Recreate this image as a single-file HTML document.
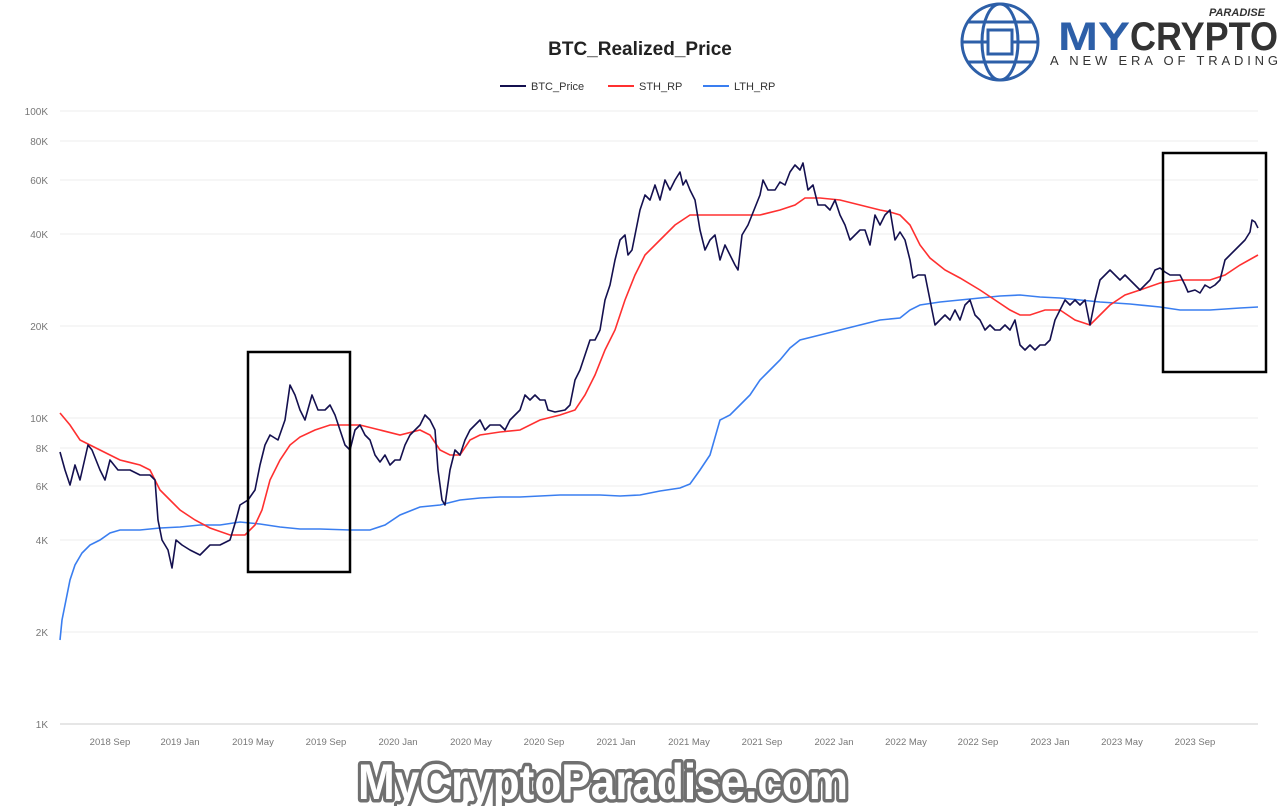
<!DOCTYPE html>
<html><head><meta charset="utf-8"><style>
body{margin:0;background:#fff;}
svg{display:block;font-family:"Liberation Sans",sans-serif;}
</style></head><body>
<svg width="1280" height="806" viewBox="0 0 1280 806">
<rect width="1280" height="806" fill="#fff"/>
<text x="640" y="55" text-anchor="middle" font-size="19" font-weight="bold" fill="#222">BTC_Realized_Price</text>
<g font-size="11" fill="#333">
<line x1="500" y1="86" x2="526" y2="86" stroke="#14104f" stroke-width="2"/><text x="531" y="90">BTC_Price</text>
<line x1="608" y1="86" x2="634" y2="86" stroke="#ff3030" stroke-width="2"/><text x="639" y="90">STH_RP</text>
<line x1="703" y1="86" x2="729" y2="86" stroke="#3a7ef0" stroke-width="2"/><text x="734" y="90">LTH_RP</text>
</g>
<g stroke="#eee" stroke-width="1">
<line x1="60" y1="111" x2="1258" y2="111"/><line x1="60" y1="141" x2="1258" y2="141"/><line x1="60" y1="180" x2="1258" y2="180"/><line x1="60" y1="234" x2="1258" y2="234"/><line x1="60" y1="326" x2="1258" y2="326"/><line x1="60" y1="418" x2="1258" y2="418"/><line x1="60" y1="448" x2="1258" y2="448"/><line x1="60" y1="486" x2="1258" y2="486"/><line x1="60" y1="540" x2="1258" y2="540"/><line x1="60" y1="632" x2="1258" y2="632"/>
</g>
<line x1="60" y1="724" x2="1258" y2="724" stroke="#ccc"/>
<g font-size="10" fill="#777" text-anchor="end">
<text x="48" y="115">100K</text><text x="48" y="145">80K</text><text x="48" y="184">60K</text><text x="48" y="238">40K</text><text x="48" y="330">20K</text><text x="48" y="422">10K</text><text x="48" y="452">8K</text><text x="48" y="490">6K</text><text x="48" y="544">4K</text><text x="48" y="636">2K</text><text x="48" y="728">1K</text>
</g>
<g font-size="9.5" fill="#777" text-anchor="middle">
<text x="110" y="745">2018 Sep</text><text x="180" y="745">2019 Jan</text><text x="253" y="745">2019 May</text><text x="326" y="745">2019 Sep</text><text x="398" y="745">2020 Jan</text><text x="471" y="745">2020 May</text><text x="544" y="745">2020 Sep</text><text x="616" y="745">2021 Jan</text><text x="689" y="745">2021 May</text><text x="762" y="745">2021 Sep</text><text x="834" y="745">2022 Jan</text><text x="906" y="745">2022 May</text><text x="978" y="745">2022 Sep</text><text x="1050" y="745">2023 Jan</text><text x="1122" y="745">2023 May</text><text x="1195" y="745">2023 Sep</text>
</g>
<polyline fill="none" stroke="#3a7ef0" stroke-width="1.6" points="60,640 62,620 66,600 70,580 75,565 82,553 90,545 100,540 110,533 120,530 140,530 160,528 180,527 200,525 220,525 240,522 260,524 280,527 300,529 320,529 350,530 370,530 385,525 400,515 420,507 440,505 460,500 480,498 500,497 520,497 540,496 560,495 580,495 600,495 620,496 640,495 660,491 680,488 690,484 700,470 710,455 720,420 730,415 740,405 750,395 760,380 770,370 780,360 790,348 800,340 820,335 840,330 860,325 880,320 900,318 910,310 920,305 940,302 960,300 980,298 1000,296 1020,295 1040,297 1060,298 1080,300 1100,302 1130,304 1160,307 1180,310 1210,310 1240,308 1258,307"/>
<polyline fill="none" stroke="#ff3030" stroke-width="1.6" points="60,413 70,425 80,440 90,445 100,450 110,455 120,460 140,465 150,470 160,490 170,500 180,510 195,520 210,528 230,535 245,535 255,525 262,510 270,480 280,460 290,445 300,437 315,430 330,425 345,425 360,425 380,430 400,435 420,430 430,435 440,450 450,455 460,455 470,440 480,435 500,432 520,430 540,420 560,415 575,410 585,395 595,375 605,350 615,330 625,300 635,275 645,255 660,240 675,225 690,215 700,215 720,215 740,215 760,215 780,210 795,205 805,198 820,198 840,200 860,205 880,210 890,212 900,215 910,225 920,245 930,258 945,270 960,278 980,290 995,300 1010,310 1020,315 1030,315 1045,310 1060,310 1075,320 1090,325 1100,315 1110,305 1125,295 1140,290 1160,283 1180,280 1210,280 1225,275 1240,265 1258,255"/>
<polyline fill="none" stroke="#14104f" stroke-width="1.6" stroke-linejoin="round" points="60,452 65,470 70,485 75,465 80,480 88,445 92,450 100,470 105,480 110,460 118,470 130,470 140,475 150,475 155,480 158,520 162,540 168,550 172,568 176,540 182,545 190,550 200,555 210,545 220,545 230,540 236,520 240,505 248,500 255,490 260,465 265,445 270,435 278,440 285,420 290,385 295,395 300,410 305,420 312,395 318,410 325,410 330,405 335,415 340,430 345,445 350,450 355,430 360,425 365,435 370,440 375,455 380,462 385,455 390,465 395,460 400,460 405,445 410,435 415,430 420,425 425,415 430,420 435,430 438,470 442,500 445,505 450,470 455,450 460,455 465,440 470,430 475,425 480,420 485,430 490,425 495,425 500,425 505,430 510,420 515,415 520,410 525,395 530,400 535,395 540,400 545,400 548,410 555,412 565,410 570,405 575,380 580,370 585,355 590,340 595,340 600,330 605,300 610,285 615,260 620,240 625,235 628,255 632,250 636,230 640,210 645,195 650,200 655,185 660,200 665,180 670,190 675,180 680,172 683,185 686,180 690,190 695,200 700,230 705,250 710,240 715,235 720,260 725,245 730,255 735,265 738,270 742,235 748,225 752,215 756,205 760,195 763,180 768,190 775,190 780,182 785,185 790,172 795,165 800,170 803,163 808,190 813,185 818,205 825,205 830,210 835,200 840,215 845,225 850,240 855,235 860,230 865,230 870,245 875,215 880,225 885,215 890,210 895,240 900,232 905,240 910,260 913,278 918,275 925,275 930,300 935,325 940,320 945,315 950,320 955,310 960,320 965,305 970,300 975,315 980,320 985,330 990,325 995,330 1000,330 1005,325 1010,330 1015,320 1020,345 1025,350 1030,345 1035,350 1040,345 1045,345 1050,340 1055,320 1060,310 1065,300 1070,305 1075,300 1080,305 1085,300 1090,325 1095,300 1100,280 1105,275 1110,270 1115,275 1120,280 1125,275 1130,280 1135,285 1140,290 1145,285 1150,280 1155,270 1160,268 1165,272 1170,275 1180,275 1185,285 1188,292 1195,290 1200,293 1205,285 1210,288 1215,285 1220,280 1225,260 1230,255 1235,250 1240,245 1245,240 1250,232 1252,220 1255,222 1258,228"/>
<rect x="248" y="352" width="102" height="220" fill="none" stroke="#000" stroke-width="2.5"/>
<rect x="1163" y="153" width="103" height="219" fill="none" stroke="#000" stroke-width="2.5"/>
<g fill="none" stroke="#2d5fa8" stroke-width="3">
<circle cx="1000" cy="42" r="38"/>
<ellipse cx="1000" cy="42" rx="18" ry="38"/>
<line x1="962" y1="42" x2="1038" y2="42"/>
<line x1="968" y1="22" x2="1032" y2="22"/><line x1="968" y1="62" x2="1032" y2="62"/>
<rect x="988" y="30" width="24" height="24" fill="#fff"/>
</g>
<text x="1265" y="16" text-anchor="end" font-size="11" font-weight="bold" font-style="italic" fill="#333">PARADISE</text>
<text x="1058" y="50" font-size="40" font-weight="bold" fill="#2d5fa8" textLength="72" lengthAdjust="spacingAndGlyphs">MY</text>
<text x="1130" y="50" font-size="40" font-weight="bold" fill="#333" textLength="148" lengthAdjust="spacingAndGlyphs">CRYPTO</text>
<text x="1050" y="65" font-size="13" fill="#333" textLength="228" lengthAdjust="spacing">A NEW ERA OF TRADING</text>
<text x="603" y="799" text-anchor="middle" font-size="50" font-weight="bold" fill="#fff" stroke="#707070" stroke-width="7" stroke-linejoin="round" paint-order="stroke" textLength="490" lengthAdjust="spacingAndGlyphs">MyCryptoParadise.com</text>
</svg>
</body></html>
